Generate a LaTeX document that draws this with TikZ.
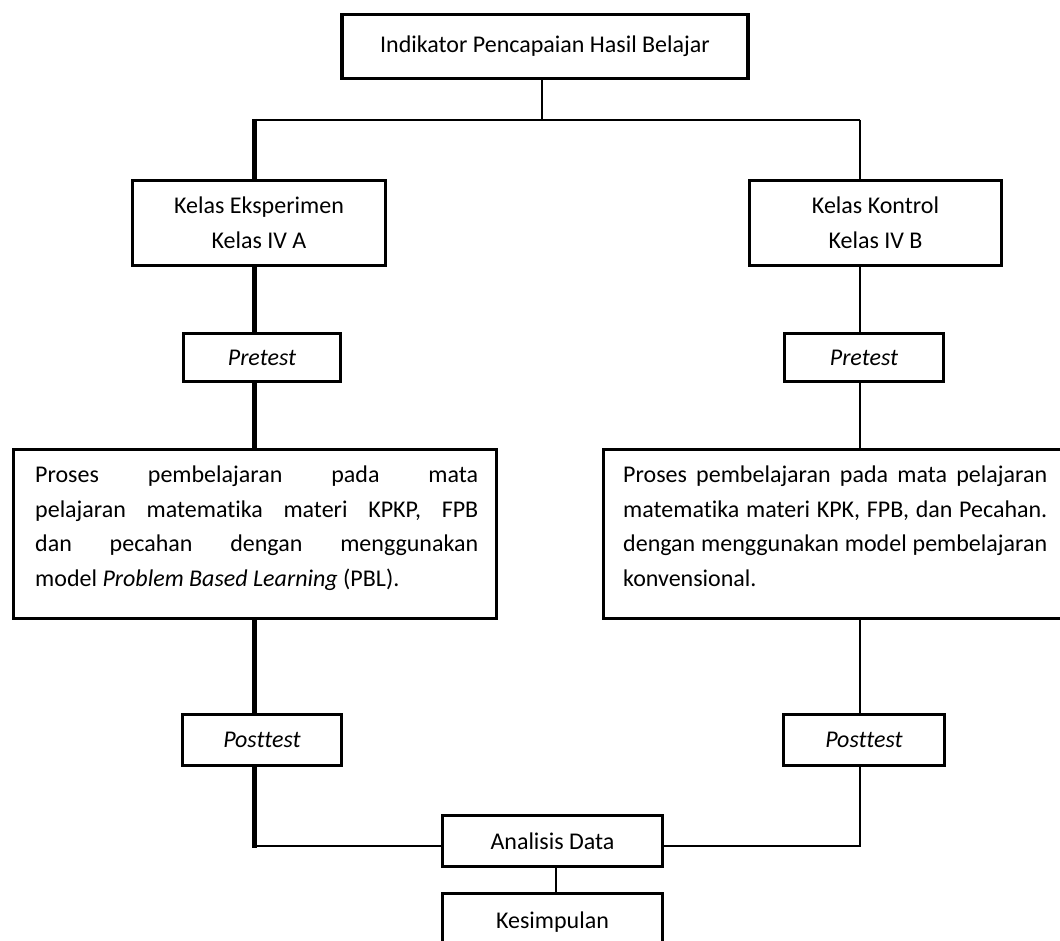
\documentclass[tikz,border=0pt]{standalone}
\usepackage{fontspec}
\setmainfont{Carlito}[Ligatures={NoCommon}]
\newcommand{\diagfont}{\fontsize{24pt}{34.5pt}\selectfont}
\hyphenpenalty=10000
\exhyphenpenalty=10000
\tolerance=9999
\begin{document}
\begin{tikzpicture}[x=1pt,y=-1pt,
  box/.style={draw, line width=3.8pt, rectangle, inner sep=0pt, align=center, font=\diagfont},
  para/.style={inner sep=0pt, align=justify, font=\diagfont},
  thinline/.style={line width=2pt},
  thickline/.style={line width=5pt}]
\useasboundingbox (0,0) rectangle (1060,941);
\clip (0,0) rectangle (1060,941);
\fill[white] (0,0) rectangle (1060,941);

% boxes
\node[box, minimum width=406pt, minimum height=64pt] (ind) at (545,46.5) {Indikator Pencapaian Hasil Belajar};
\node[box, minimum width=253pt, minimum height=85pt] (eks) at (259,223) {Kelas Eksperimen\\Kelas IV A};
\node[box, minimum width=252pt, minimum height=85pt] (kon) at (875.5,223) {Kelas Kontrol\\Kelas IV B};
\node[box, minimum width=157pt, minimum height=48pt] (preL) at (262,357.5) {\itshape Pretest};
\node[box, minimum width=159pt, minimum height=48pt] (preR) at (864,357.5) {\itshape Pretest};
\node[box, minimum width=483pt, minimum height=169pt] (proL) at (255,534) {};
\node[box, minimum width=463pt, minimum height=169pt] (proR) at (835,534) {};
\node[para, text width=443pt, anchor=north west] (proLt) at (35,466) {Proses pembelajaran pada mata\linebreak pelajaran matematika materi KPKP, FPB\linebreak dan pecahan dengan menggunakan\linebreak model \textit{Problem Based Learning} (PBL).};
\node[para, text width=424pt, anchor=north west] (proRt) at (623,466) {Proses pembelajaran pada mata pelajaran\linebreak matematika materi KPK, FPB, dan Pecahan.\linebreak dengan menggunakan model pembelajaran\linebreak konvensional.};
\node[box, minimum width=159pt, minimum height=51pt] (postL) at (262,740) {\itshape Posttest};
\node[box, minimum width=161pt, minimum height=51pt] (postR) at (864,740) {\itshape Posttest};
\node[box, minimum width=220pt, minimum height=51pt] (ana) at (552.5,841) {Analisis Data};
\node[box, minimum width=220pt, minimum height=57pt] (kes) at (552.5,922) {Kesimpulan};

% guide coordinates
\coordinate (xl) at (254,0);
\coordinate (xr) at (860,0);
\coordinate (hy) at (0,120);
\coordinate (by) at (0,846);
\coordinate (topL) at (xl |- hy);
\coordinate (topR) at (xr |- hy);
\coordinate (botL) at (xl |- by);
\coordinate (botR) at (xr |- by);

% top connectors
\draw[thinline] (ind.south -| 542,0) -- (542,120);
\draw[thinline] (topL) -- (topR);
\draw[thickline] ([yshift=1pt]topL) -- (eks.north -| xl);
\draw[thinline] (topR) -- (kon.north -| xr);

% left column (thick)
\draw[thickline] (eks.south -| xl) -- (preL.north -| xl);
\draw[thickline] (preL.south -| xl) -- (proL.north -| xl);
\draw[thickline] (proL.south -| xl) -- (postL.north -| xl);
\draw[thickline] (postL.south -| xl) -- ([yshift=-2pt]botL);
\draw[thinline] (botL) -- (ana.west |- by);

% right column (thin)
\draw[thinline] (kon.south -| xr) -- (preR.north -| xr);
\draw[thinline] (preR.south -| xr) -- (proR.north -| xr);
\draw[thinline] (proR.south -| xr) -- (postR.north -| xr);
\draw[thinline] (postR.south -| xr) -- (botR) -- (ana.east |- by);

% bottom
\draw[thinline] (ana.south -| 556,0) -- (kes.north -| 556,0);
\end{tikzpicture}
\end{document}
